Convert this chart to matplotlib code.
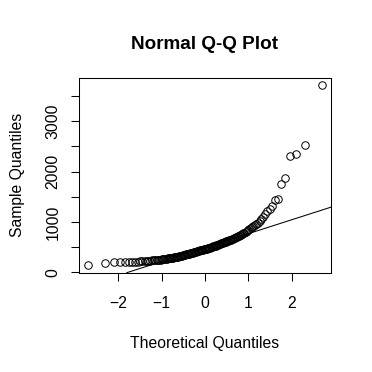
import numpy as np
import matplotlib
matplotlib.use("Agg")
import matplotlib.pyplot as plt
from statistics import NormalDist

# sample values (sorted, n = 140)
sample = [
    135, 192, 196, 199, 203, 206, 208, 211, 213, 216,
    219, 222, 225, 228, 231, 234, 238, 241, 244, 247,
    250, 253, 256, 259, 262, 266, 270, 274, 278, 281,
    285, 289, 293, 297, 300, 304, 308, 312, 316, 320,
    325, 330, 335, 340, 345, 350, 355, 360, 364, 368,
    372, 377, 382, 387, 392, 397, 402, 407, 412, 417,
    422, 426, 430, 434, 438, 442, 446, 450, 454, 458,
    462, 466, 471, 476, 481, 486, 491, 496, 501, 506,
    512, 518, 524, 530, 536, 542, 548, 554, 560, 566,
    572, 579, 586, 593, 600, 607, 614, 621, 628, 635,
    642, 650, 658, 666, 674, 683, 692, 701, 711, 721,
    732, 744, 757, 771, 786, 802, 820, 840, 862, 885,
    905, 925, 945, 965, 985, 1015, 1050, 1090, 1160, 1210,
    1255, 1310, 1440, 1460, 1750, 1870, 2310, 2350, 2530, 3720,
]

x_ticks = [-2, -1, 0, 1, 2]
y_ticks = [0, 500, 1000, 1500, 2000, 2500, 3000, 3500]
y_tick_labels = ["0", "", "1000", "", "2000", "", "3000", ""]

plt.rcParams['font.family'] = ['Liberation Sans', 'DejaVu Sans']

y = np.sort(np.array(sample, dtype=float))
n = len(y)
nd = NormalDist()
# ppoints(n) como en qqnorm de R
x = np.array([nd.inv_cdf((i - 0.5) / n) for i in range(1, n + 1)])

fig = plt.figure(figsize=(3.72, 3.72), dpi=100)
ax = fig.add_axes([0.212, 0.267, 0.678, 0.524])

ax.plot(x, y, linestyle='none', marker='o', markersize=5.4,
        markerfacecolor='none', markeredgecolor='black', markeredgewidth=0.7)

# qqline: recta por los cuartiles
q1, q3 = np.quantile(y, [0.25, 0.75])
x1, x3 = nd.inv_cdf(0.25), nd.inv_cdf(0.75)
slope = (q3 - q1) / (x3 - x1)
inter = q1 - slope * x1
ax.axline((0, inter), slope=slope, color='black', linewidth=0.75)

xr = x.max() - x.min()
yr = y.max() - y.min()
ax.set_xlim(x.min() - 0.04 * xr, x.max() + 0.04 * xr)
ax.set_ylim(y.min() - 0.04 * yr, y.max() + 0.04 * yr)

ax.set_xticks(x_ticks)
ax.set_yticks(y_ticks)
ax.set_yticklabels(y_tick_labels, rotation=90, va='center')
ax.tick_params(direction='out', length=5.5, width=0.75, labelsize=11.3)
ax.tick_params(axis='x', pad=11)
ax.tick_params(axis='y', pad=7.6)
for s in ax.spines.values():
    s.set_linewidth(0.75)

ax.set_title('Normal Q-Q Plot', fontsize=13.6, fontweight='bold', pad=20.5)
ax.set_xlabel('Theoretical Quantiles', fontsize=11.3, labelpad=18.4)
ax.set_ylabel('Sample Quantiles', fontsize=11.3, labelpad=15)

fig.savefig('out.png', dpi=100)
